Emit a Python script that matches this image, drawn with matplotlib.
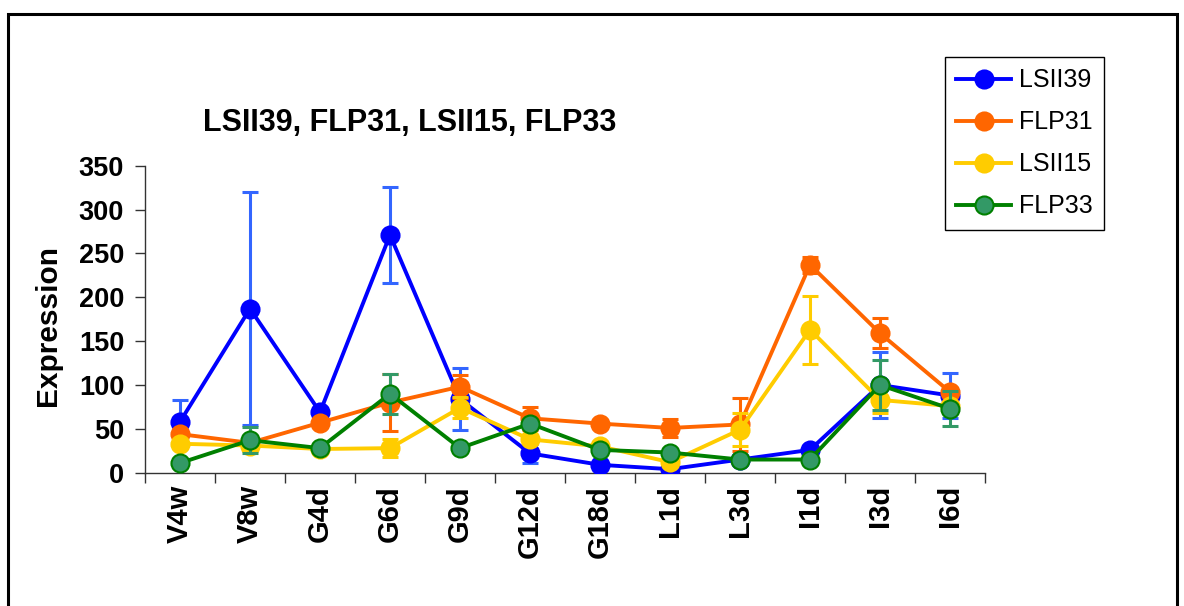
import numpy as np
import matplotlib
matplotlib.use("Agg")
import matplotlib.pyplot as plt
from matplotlib.patches import Rectangle

plt.rcParams['font.family'] = ['Liberation Sans', 'DejaVu Sans']

# data
stages = ['V4w', 'V8w', 'G4d', 'G6d', 'G9d', 'G12d', 'G18d', 'L1d', 'L3d', 'I1d', 'I3d', 'I6d']

lsii39 = [58, 187, 69, 271, 84, 22, 9, 4, 15, 26, 100, 88]
lsii39_err = [25, 133, 0, 55, 35, 11, 0, 0, 0, 0, 38, 26]

flp31 = [44, 34, 57, 80, 98, 62, 56, 51, 55, 237, 159, 92]
flp31_err = [0, 0, 0, 32, 13, 13, 0, 10, 30, 9, 17, 0]

lsii15 = [33, 31, 27, 28, 74, 38, 30, 12, 49, 163, 83, 76]
lsii15_err = [0, 0, 0, 10, 12, 0, 0, 0, 19, 39, 15, 0]

flp33 = [11, 37, 28, 90, 28, 56, 26, 23, 15, 15, 100, 73]
flp33_err = [0, 15, 0, 23, 0, 0, 0, 0, 0, 0, 29, 20]

series = [
    ('LSII39', lsii39, lsii39_err, '#0000FF', '#0000FF', '#0000FF', '#3366FF'),
    ('FLP31', flp31, flp31_err, '#FF6600', '#FF6600', '#FF6600', '#FF6600'),
    ('LSII15', lsii15, lsii15_err, '#FFCC00', '#FFCC00', '#FFCC00', '#FFCC00'),
    ('FLP33', flp33, flp33_err, '#008000', '#339966', '#008000', '#339966'),
]

fig = plt.figure(figsize=(11.84, 6.06), dpi=100)
ax = fig.add_axes([145/1184, 1 - 472.7/606, 840/1184, 307/606])

x = np.arange(len(stages))
for i, (name, vals, err, lc, fc, ec, errc) in enumerate(series):
    z = 3 + i * 3
    ax.errorbar(x, vals, yerr=err, fmt='none', ecolor=errc, elinewidth=2.2,
                capsize=6, capthick=2.2, zorder=z)
    ax.plot(x, vals, color=lc, lw=2.8, marker='o', markersize=13,
            markerfacecolor=fc, markeredgecolor=ec, markeredgewidth=1.5,
            label=name, zorder=z + 1)

ax.set_xlim(-0.5, len(stages) - 0.5)
ax.set_ylim(0, 350)
ax.set_yticks(range(0, 351, 50))
ax.set_xticks(x)
ax.set_xticklabels(stages, rotation=90, fontsize=21, fontweight='bold', va='top')
ax.set_xticks(np.arange(-0.5, len(stages)), minor=True)
ax.tick_params(axis='x', which='major', length=0, pad=9)
ax.tick_params(axis='x', which='minor', length=7, width=1, color='#333333')
ax.tick_params(axis='y', length=7, width=1, color='#333333', pad=8, labelsize=19.5)
for lab in ax.get_yticklabels():
    lab.set_fontweight('bold')

for s in ['top', 'right']:
    ax.spines[s].set_visible(False)
for s in ['left', 'bottom']:
    ax.spines[s].set_color('#333333')
    ax.spines[s].set_linewidth(1)

fig.text(410/1184, 1 - 123/606, 'LSII39, FLP31, LSII15, FLP33', ha='center', va='center',
         fontsize=22, fontweight='bold')
fig.text(48/1184, 1 - 325/606, 'Expression', ha='center', va='center', rotation=90,
         fontsize=21.5, fontweight='bold')

leg = ax.legend(loc='upper left', bbox_to_anchor=(945/1184, 1 - 57/606),
                bbox_transform=fig.transFigure, borderaxespad=0, fontsize=18,
                frameon=True, fancybox=False, edgecolor='black', framealpha=1,
                handlelength=2.2, handletextpad=0.3, labelspacing=0.72, borderpad=0.45)
leg.get_frame().set_linewidth(1)

fig.patches.append(Rectangle((8/1184, -0.05), 1169/1184, 1 - 14/606 + 0.05,
                             transform=fig.transFigure, fill=False, edgecolor='black',
                             lw=2.2, zorder=0))

fig.savefig('out.png', dpi=100)
